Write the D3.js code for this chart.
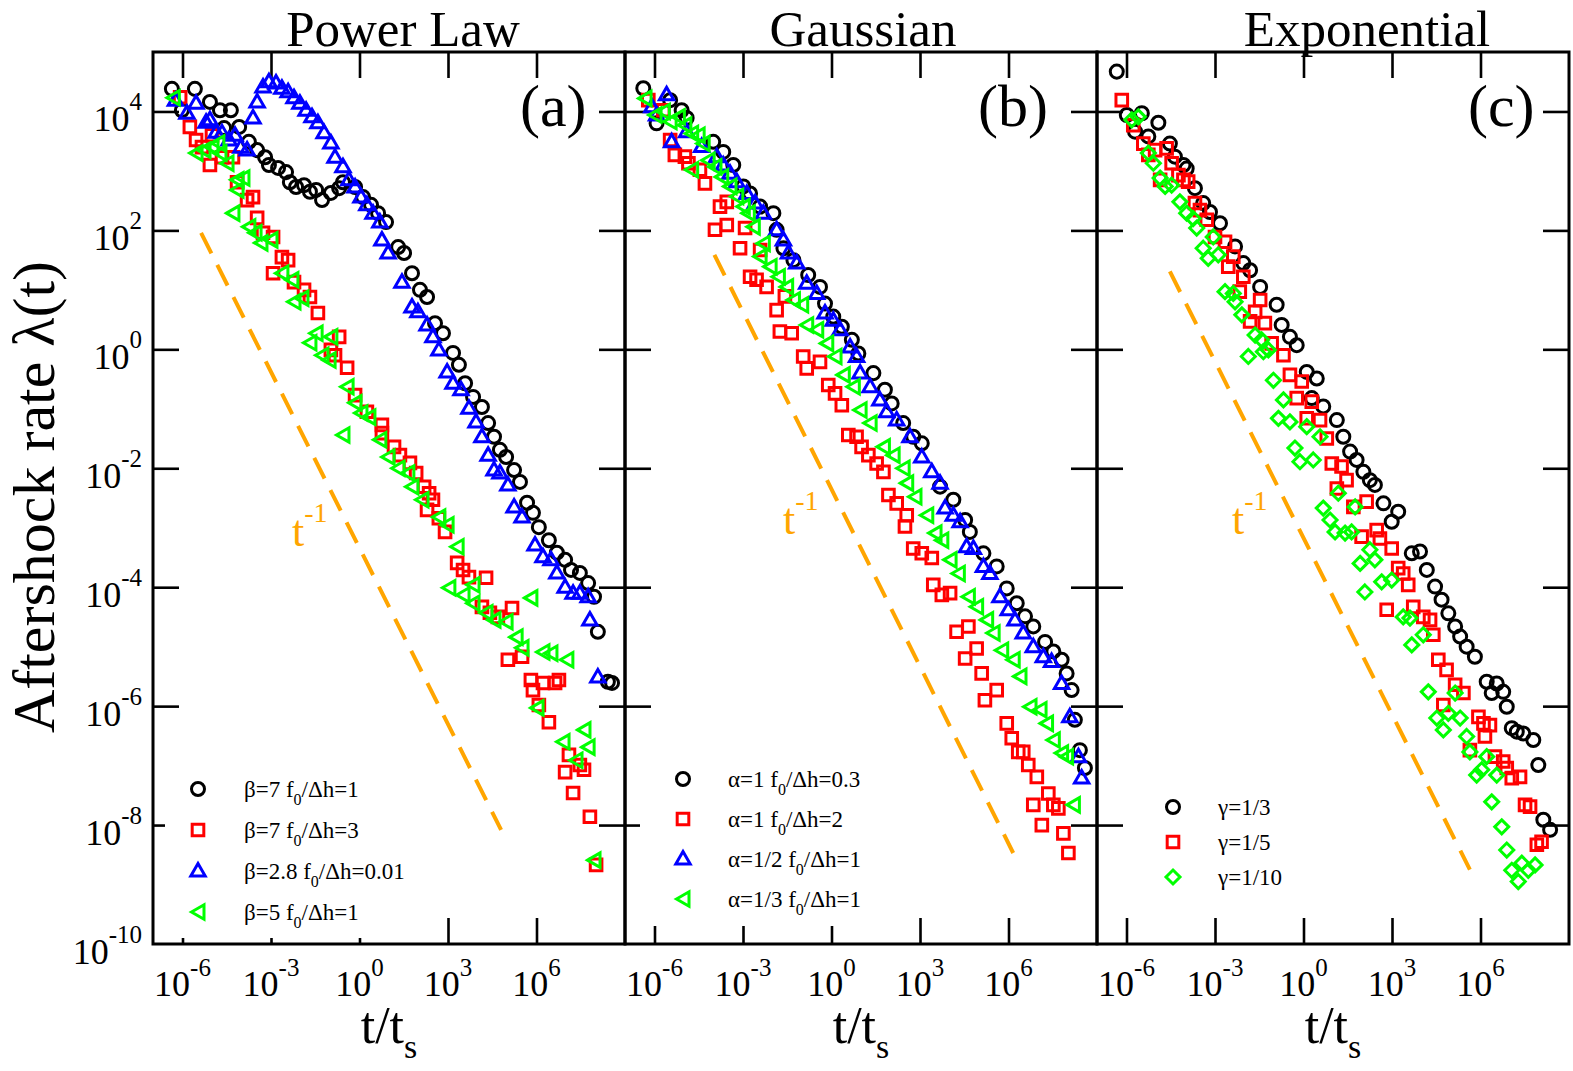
<!DOCTYPE html>
<html lang="en">
<head>
<meta charset="UTF-8">
<title>Aftershock rate</title>
<script src="https://cdn.jsdelivr.net/npm/d3@7"></script>
<style>
  body { margin: 0; background: #fff; }
  text { font-family: "Liberation Serif", "Times New Roman", serif; }
</style>
</head>
<body>
<svg id="chart" width="1573" height="1071"></svg>
<script>

// (a) Power Law
const plBlack = [[-6.36,4.38],[-5.58,4.38],[-6.02,4.02],[-5.07,4.16],[-4.73,4.02],[-4.36,4.02],[-4.59,3.72],[-4.08,3.74],[-3.75,3.49],[-3.47,3.35],[-3.20,3.23],[-3.07,3.10],[-2.76,3.05],[-2.49,2.98],[-2.36,2.81],[-2.15,2.73],[-1.88,2.76],[-1.68,2.65],[-1.47,2.68],[-1.27,2.51],[-0.97,2.63],[-0.69,2.71],[-0.56,2.81],[-0.15,2.73],[0.12,2.56],[0.39,2.43],[0.63,2.29],[0.90,2.14],[1.31,1.72],[1.51,1.62],[1.78,1.28],[2.05,1.00],[2.29,0.88],[2.56,0.44],[2.83,0.27],[3.17,-0.06],[3.37,-0.26],[3.58,-0.57],[3.85,-0.80],[4.15,-0.97],[4.36,-1.24],[4.56,-1.47],[4.76,-1.69],[4.97,-1.81],[5.24,-2.03],[5.44,-2.23],[5.68,-2.58],[5.88,-2.75],[6.08,-2.99],[6.42,-3.21],[6.69,-3.42],[6.97,-3.54],[7.17,-3.71],[7.47,-3.76],[7.75,-3.93],[7.95,-4.16],[8.08,-4.75],[8.42,-5.59],[8.56,-5.61]];
const plRed = [[-6.08,4.24],[-5.75,3.74],[-5.54,3.52],[-5.34,3.40],[-5.07,3.10],[-5.00,3.60],[-4.66,3.23],[-4.29,3.23],[-4.15,2.81],[-3.81,2.51],[-3.61,2.56],[-3.47,2.21],[-3.27,1.96],[-2.93,1.89],[-2.63,1.55],[-2.42,1.50],[-2.93,1.28],[-2.22,1.13],[-1.88,1.00],[-1.68,0.88],[-1.41,0.61],[-0.69,0.21],[-0.97,-0.01],[-0.83,-0.10],[-0.42,-0.31],[-0.15,-0.77],[0.25,-1.05],[0.76,-1.27],[0.76,-1.41],[1.17,-1.64],[1.37,-1.78],[1.71,-1.91],[1.92,-2.08],[2.19,-2.31],[2.36,-2.42],[2.49,-2.53],[2.29,-2.70],[2.69,-2.84],[2.90,-3.07],[3.31,-3.59],[3.51,-3.71],[3.71,-3.83],[4.29,-3.84],[4.15,-4.33],[4.42,-4.43],[4.69,-4.50],[5.17,-4.35],[5.03,-5.22],[5.51,-5.17],[5.81,-5.56],[6.22,-5.61],[6.63,-5.61],[6.76,-5.56],[5.88,-5.73],[6.08,-5.98],[6.42,-6.27],[7.10,-6.82],[6.97,-7.11],[7.61,-7.07],[7.47,-6.99],[7.24,-7.46],[7.81,-7.86],[8.02,-8.67]];
const plBlue = [[-6.24,4.19],[-5.85,3.97],[-5.54,4.14],[-5.20,3.82],[-5.07,3.86],[-4.86,3.65],[-4.66,3.64],[-4.42,3.52],[-4.22,3.60],[-4.02,3.40],[-3.81,3.35],[-3.61,3.89],[-3.47,4.16],[-3.27,4.41],[-3.07,4.50],[-2.83,4.48],[-2.63,4.39],[-2.42,4.33],[-2.22,4.23],[-2.02,4.14],[-1.81,4.02],[-1.61,3.91],[-1.41,3.81],[-1.20,3.64],[-0.97,3.47],[-0.83,3.23],[-0.56,3.07],[-0.36,2.85],[-0.15,2.73],[0.05,2.56],[0.25,2.43],[0.46,2.29],[0.69,2.14],[0.76,1.84],[0.97,1.62],[1.44,1.13],[1.78,0.71],[1.98,0.63],[2.29,0.41],[2.49,0.21],[2.69,-0.01],[2.97,-0.38],[3.17,-0.57],[3.44,-0.68],[3.71,-0.99],[3.95,-1.22],[4.15,-1.47],[4.36,-1.78],[4.56,-2.03],[4.76,-2.08],[5.03,-2.28],[5.24,-2.65],[5.51,-2.82],[5.95,-3.29],[6.22,-3.49],[6.49,-3.54],[6.69,-3.76],[6.97,-4.00],[7.24,-4.10],[7.47,-4.10],[7.75,-4.16],[7.81,-4.55],[8.08,-5.51]];
const plGreen = [[-6.31,4.23],[-5.54,3.30],[-5.27,3.35],[-5.00,3.40],[-4.80,3.47],[-4.73,3.30],[-4.49,3.13],[-4.15,2.85],[-3.95,2.88],[-4.15,2.68],[-4.29,2.29],[-3.75,2.06],[-3.54,1.96],[-3.34,1.79],[-3.00,1.84],[-2.63,1.28],[-2.29,1.17],[-2.22,0.80],[-1.95,0.86],[-1.47,0.27],[-0.97,0.21],[-1.68,0.11],[-1.27,-0.10],[-1.03,-0.18],[-0.42,-0.63],[-0.15,-0.90],[0.05,-1.07],[0.32,-1.14],[-0.56,-1.44],[0.69,-1.52],[0.97,-1.81],[1.31,-2.00],[1.64,-2.08],[1.78,-2.31],[2.12,-2.53],[2.69,-2.82],[2.97,-2.95],[3.31,-3.32],[3.03,-4.01],[3.51,-4.13],[3.85,-3.96],[3.85,-4.27],[4.29,-4.43],[4.56,-4.55],[4.97,-4.58],[5.31,-4.84],[5.51,-5.02],[5.81,-4.18],[6.22,-5.09],[6.49,-5.11],[7.03,-5.22],[6.02,-6.03],[6.90,-6.60],[7.34,-6.91],[7.61,-6.40],[7.75,-6.69],[7.95,-8.59]];
const plLabels = [["β=7 f","0","/Δh=1"],["β=7 f","0","/Δh=3"],["β=2.8 f","0","/Δh=0.01"],["β=5 f","0","/Δh=1"]];
const plGuide = [[-5.37,1.96],[4.80,-8.08]];

// (b) Gaussian
const gaBlack = [[-6.38,4.39],[-5.47,4.19],[-5.08,4.02],[-4.91,3.89],[-5.93,3.80],[-4.01,3.49],[-3.67,3.32],[-3.33,3.10],[-2.99,2.74],[-2.76,2.62],[-2.42,2.40],[-1.97,2.29],[-1.86,2.01],[-1.63,1.70],[-1.29,1.50],[-0.79,1.25],[-0.39,1.05],[-0.22,0.77],[0.06,0.55],[0.35,0.38],[0.69,0.16],[0.91,-0.07],[1.42,-0.40],[1.81,-0.68],[2.04,-0.91],[2.43,-1.24],[2.77,-1.47],[3.06,-1.58],[3.68,-2.31],[4.13,-2.53],[4.53,-2.87],[4.69,-3.07],[5.15,-3.43],[5.60,-3.65],[5.94,-4.02],[6.28,-4.27],[6.56,-4.49],[6.84,-4.66],[7.24,-4.92],[7.52,-5.08],[7.80,-5.22],[7.97,-5.45],[8.14,-5.73],[8.25,-6.23],[8.42,-6.74],[8.59,-7.04]];
const gaRed = [[-6.21,4.19],[-5.70,4.02],[-5.47,3.52],[-5.31,3.27],[-4.97,3.24],[-4.85,3.13],[-4.46,3.02],[-4.29,2.79],[-3.78,2.40],[-3.55,2.48],[-3.95,2.01],[-3.55,2.09],[-2.93,2.04],[-3.10,1.70],[-2.42,1.67],[-2.76,1.22],[-2.54,1.17],[-2.20,1.05],[-1.86,0.66],[-1.58,0.89],[-1.75,0.30],[-1.35,0.27],[-0.96,-0.12],[-0.84,-0.32],[-0.39,-0.21],[-0.11,-0.60],[0.12,-0.74],[0.35,-0.94],[0.57,-1.44],[0.85,-1.47],[1.02,-1.64],[1.25,-1.78],[1.53,-1.92],[1.76,-2.06],[1.93,-2.45],[2.21,-2.59],[2.55,-2.79],[2.49,-2.98],[2.77,-3.35],[3.06,-3.43],[3.40,-3.51],[3.45,-3.96],[3.74,-4.13],[4.02,-4.10],[4.24,-4.75],[4.64,-4.66],[4.53,-5.20],[4.92,-5.03],[5.09,-5.45],[5.60,-5.73],[5.20,-5.90],[5.94,-6.29],[6.11,-6.54],[6.33,-6.77],[6.50,-6.77],[6.67,-6.99],[6.96,-7.19],[7.35,-7.47],[6.84,-7.66],[7.52,-7.66],[7.69,-7.72],[7.13,-8.00],[7.86,-8.14],[8.03,-8.47]];
const gaBlue = [[-6.09,4.08],[-5.59,4.28],[-5.93,3.94],[-5.42,3.49],[-4.91,3.66],[-4.40,3.41],[-3.89,3.24],[-3.67,3.10],[-3.44,2.96],[-3.21,2.82],[-2.87,2.62],[-2.59,2.46],[-2.31,2.29],[-1.86,2.01],[-1.63,1.84],[-1.46,1.62],[-1.18,1.45],[-0.84,1.11],[-0.50,0.94],[-0.22,0.61],[0.06,0.49],[0.29,0.33],[0.63,0.04],[0.85,-0.12],[0.97,-0.40],[1.31,-0.63],[1.64,-0.85],[1.87,-1.05],[2.21,-1.19],[2.66,-1.47],[3.06,-1.81],[3.40,-2.06],[3.68,-2.25],[3.85,-2.67],[4.13,-2.79],[4.36,-2.90],[4.58,-3.32],[4.81,-3.35],[5.15,-3.65],[5.37,-3.77],[5.71,-4.16],[5.99,-4.38],[6.22,-4.55],[6.50,-4.77],[6.84,-5.00],[7.18,-5.17],[7.46,-5.25],[7.80,-5.62],[8.08,-6.18],[8.37,-6.85],[8.48,-7.21]];
const gaGreen = [[-6.32,4.22],[-5.98,3.94],[-5.70,4.00],[-5.47,3.83],[-5.19,3.91],[-4.97,3.77],[-4.74,3.63],[-4.52,3.60],[-4.35,3.46],[-4.74,3.02],[-4.18,3.18],[-3.95,3.07],[-3.72,2.90],[-3.44,2.74],[-3.21,2.57],[-2.99,2.40],[-2.82,2.29],[-2.65,2.06],[-2.31,1.78],[-2.42,1.56],[-2.08,1.39],[-1.80,1.22],[-1.52,1.05],[-1.29,0.83],[-1.01,0.75],[-0.84,0.41],[-0.50,0.33],[-0.16,0.10],[0.12,-0.12],[0.40,-0.43],[0.74,-0.63],[0.97,-1.02],[1.31,-1.24],[1.76,-1.64],[2.09,-1.78],[2.43,-2.00],[2.55,-2.25],[2.83,-2.48],[3.23,-2.79],[3.51,-3.09],[3.74,-3.21],[4.02,-3.54],[4.30,-3.77],[4.64,-4.16],[4.92,-4.33],[5.26,-4.55],[5.48,-4.77],[5.77,-5.06],[6.16,-5.22],[6.39,-5.50],[6.73,-6.01],[7.07,-6.06],[7.29,-6.29],[7.52,-6.57],[7.80,-6.79],[7.97,-6.85],[8.20,-7.66]];
const gaLabels = [["α=1 f","0","/Δh=0.3"],["α=1 f","0","/Δh=2"],["α=1/2 f","0","/Δh=1"],["α=1/3 f","0","/Δh=1"]];
const gaGuide = [[-3.97,1.59],[6.16,-8.47]];

// (c) Exponential
const exBlack = [[-6.33,4.67],[-5.99,3.94],[-5.48,3.97],[-4.92,3.81],[-5.71,3.66],[-5.26,3.58],[-4.53,3.46],[-4.36,3.24],[-4.07,3.10],[-3.96,3.04],[-3.68,2.71],[-3.40,2.46],[-3.17,2.31],[-2.83,2.12],[-2.32,1.73],[-2.04,1.45],[-1.81,1.33],[-1.47,1.05],[-0.91,0.75],[-0.74,0.41],[-0.46,0.21],[-0.23,0.07],[0.11,-0.38],[0.45,-0.49],[0.28,-0.82],[0.67,-0.96],[1.13,-1.19],[1.35,-1.47],[1.58,-1.72],[1.80,-1.86],[2.03,-2.06],[2.25,-2.20],[2.42,-2.28],[2.71,-2.59],[3.21,-2.73],[2.99,-2.90],[3.67,-3.43],[3.95,-3.40],[4.18,-3.71],[4.46,-3.99],[4.68,-4.21],[4.91,-4.44],[5.14,-4.66],[5.31,-4.83],[5.53,-5.00],[5.81,-5.17],[6.21,-5.59],[6.55,-5.62],[6.77,-5.76],[6.38,-5.78],[6.89,-6.01],[7.06,-6.37],[7.23,-6.43],[7.45,-6.46],[7.79,-6.57],[7.96,-6.99],[8.13,-7.91],[8.36,-8.08]];
const exRed = [[-6.16,4.19],[-5.77,3.77],[-5.43,3.46],[-5.03,3.35],[-5.26,3.27],[-4.64,3.38],[-4.47,3.13],[-4.24,2.93],[-4.07,2.85],[-3.91,2.82],[-4.86,2.85],[-3.68,2.46],[-3.51,2.34],[-3.28,2.18],[-3.00,1.89],[-2.66,1.81],[-2.38,1.56],[-2.55,1.39],[-2.04,1.22],[-2.16,0.97],[-1.47,0.83],[-1.64,0.63],[-1.81,0.47],[-1.31,0.44],[-1.08,0.10],[-0.68,-0.10],[-0.46,-0.43],[-0.06,-0.54],[-0.23,-0.82],[0.28,-0.88],[0.11,-1.16],[0.56,-1.19],[0.79,-1.50],[0.96,-1.92],[1.29,-1.97],[1.46,-2.20],[1.13,-2.34],[1.69,-2.65],[2.14,-2.56],[1.97,-3.15],[2.48,-3.04],[2.59,-3.18],[2.99,-3.35],[3.21,-3.68],[3.38,-3.77],[3.55,-3.96],[2.82,-4.38],[3.72,-4.33],[4.06,-4.50],[4.29,-4.55],[4.40,-4.80],[4.57,-5.22],[4.85,-5.39],[5.14,-5.64],[5.42,-5.78],[4.74,-5.98],[5.93,-6.18],[6.10,-6.29],[6.32,-6.32],[6.15,-6.51],[5.64,-6.74],[6.49,-6.85],[6.77,-6.93],[6.89,-7.04],[7.06,-7.21],[7.34,-7.19],[7.51,-7.66],[7.68,-7.69],[7.91,-8.33],[8.07,-8.28]];
const exGreen = [[-5.82,3.86],[-5.60,3.91],[-5.26,3.30],[-5.09,3.13],[-4.86,2.88],[-4.69,2.74],[-4.47,2.76],[-4.19,2.48],[-3.96,2.29],[-3.74,2.20],[-3.62,2.04],[-3.06,1.89],[-3.40,1.70],[-3.23,1.53],[-2.89,1.59],[-2.66,0.97],[-2.38,0.94],[-2.32,0.80],[-2.09,0.58],[-1.64,0.24],[-1.42,0.16],[-1.19,-0.01],[-1.87,-0.12],[-1.36,-0.04],[-1.02,-0.52],[-0.68,-0.85],[-0.85,-1.16],[-0.46,-1.22],[0.11,-1.30],[0.56,-1.47],[-0.29,-1.66],[-0.12,-1.89],[0.33,-1.86],[1.18,-2.42],[1.75,-2.65],[0.67,-2.67],[0.90,-2.87],[1.07,-3.07],[1.41,-3.09],[1.63,-3.07],[2.25,-3.37],[2.42,-3.54],[1.92,-3.60],[2.65,-3.91],[2.99,-3.88],[2.08,-4.08],[3.38,-4.50],[3.61,-4.52],[4.06,-4.80],[3.67,-4.97],[4.23,-5.76],[5.14,-5.78],[4.52,-6.20],[4.74,-6.40],[4.91,-6.12],[5.31,-6.20],[5.53,-6.51],[5.64,-6.77],[5.87,-7.16],[6.04,-7.07],[6.21,-6.85],[6.55,-7.16],[6.38,-7.61],[6.72,-8.03],[6.89,-8.42],[7.06,-8.76],[7.28,-8.95],[7.40,-8.64],[7.62,-8.76],[7.85,-8.67]];
const exLabels = [["γ=1/3"],["γ=1/5"],["γ=1/10"]];
const exGuide = [[-4.53,1.31],[5.64,-8.75]];

// axes
const xTickExp = [-6, -3, 0, 3, 6];
const yTickExp = [4, 2, 0, -2, -4, -6, -8, -10];
const titles = ["Power Law", "Gaussian", "Exponential"];
const tags = ["(a)", "(b)", "(c)"];

// layout
const plotTop = 52, plotBottom = 944, left0 = 153, panelW = 472;
const tickLen = 26;
const svg = d3.select("#chart");

// marker shapes
const triUp = { draw(c) { c.moveTo(0, -7.5); c.lineTo(7.2, 5); c.lineTo(-7.2, 5); c.closePath(); } };
const triLeft = { draw(c) { c.moveTo(-6.5, 0); c.lineTo(6, -7.2); c.lineTo(6, 7.2); c.closePath(); } };
const diamond = { draw(c) { c.moveTo(0, -7); c.lineTo(7, 0); c.lineTo(0, 7); c.lineTo(-7, 0); c.closePath(); } };
const marks = {
  circle: d3.symbol().type(d3.symbolCircle).size(133)(),
  square: d3.symbol().type(d3.symbolSquare).size(135)(),
  triUp: d3.symbol().type(triUp)(),
  triLeft: d3.symbol().type(triLeft)(),
  diamond: d3.symbol().type(diamond)()
};

const panels = [
  { series: [
      { data: plBlack, color: "#000", mark: "circle" },
      { data: plRed, color: "#ff0000", mark: "square" },
      { data: plBlue, color: "#0000ff", mark: "triUp" },
      { data: plGreen, color: "#00ff00", mark: "triLeft" }],
    labels: plLabels, guide: plGuide,
    titleX: 403, tagX: 520, guideText: [292, 546],
    legend: { box: [165, 762, 262, 176], sx: 198, tx: 244, y0: 789, dy: 41 } },
  { series: [
      { data: gaBlack, color: "#000", mark: "circle" },
      { data: gaRed, color: "#ff0000", mark: "square" },
      { data: gaBlue, color: "#0000ff", mark: "triUp" },
      { data: gaGreen, color: "#00ff00", mark: "triLeft" }],
    labels: gaLabels, guide: gaGuide,
    titleX: 863, tagX: 978, guideText: [783, 534],
    legend: { box: [640, 755, 245, 171], sx: 683, tx: 728, y0: 779, dy: 40 } },
  { series: [
      { data: exBlack, color: "#000", mark: "circle" },
      { data: exRed, color: "#ff0000", mark: "square" },
      { data: exGreen, color: "#00ff00", mark: "diamond" }],
    labels: exLabels, guide: exGuide,
    titleX: 1367, tagX: 1468, guideText: [1232, 534],
    legend: { box: [1150, 785, 140, 110], sx: 1173, tx: 1218, y0: 807, dy: 35 } }
];

const y = d3.scaleLog().domain([1e-10, 1e5]).range([plotBottom, plotTop]);
const pow = e => Math.pow(10, e);

panels.forEach((p, i) => {
  const x0 = left0 + i * panelW;
  const x = d3.scaleLog().domain([1e-7, 1e9]).range([x0, x0 + panelW]);
  const g = svg.append("g");

  // inward ticks on all four sides
  const xt = xTickExp.map(pow);
  const yt = yTickExp.filter(e => e > -10).map(pow);
  const axes = [
    [d3.axisBottom(x).tickValues(xt), `translate(0,${plotBottom})`],
    [d3.axisTop(x).tickValues(xt), `translate(0,${plotTop})`],
    [d3.axisLeft(y).tickValues(yt), `translate(${x0},0)`],
    [d3.axisRight(y).tickValues(yt), `translate(${x0 + panelW},0)`]
  ];
  axes.forEach(([ax, tr]) => {
    const a = g.append("g").attr("transform", tr)
      .call(ax.tickSize(-tickLen).tickFormat(""));
    a.select(".domain").remove();
    a.selectAll("line").attr("stroke", "#000").attr("stroke-width", 2.6);
  });

  // frame
  g.append("rect").attr("x", x0).attr("y", plotTop).attr("width", panelW).attr("height", plotBottom - plotTop)
    .attr("fill", "none").attr("stroke", "#000").attr("stroke-width", 3);

  // x tick labels
  xTickExp.forEach(e => {
    const t = g.append("text").attr("x", x(pow(e))).attr("y", 996)
      .attr("text-anchor", "middle").attr("font-size", 36);
    t.append("tspan").text("10");
    t.append("tspan").attr("font-size", 25).attr("dy", -20).text(e);
  });

  // y tick labels only on first panel
  if (i === 0) {
    yTickExp.forEach(e => {
      const t = g.append("text").attr("x", 142).attr("y", y(pow(e)) + 20)
        .attr("text-anchor", "end").attr("font-size", 36);
      t.append("tspan").text("10");
      t.append("tspan").attr("font-size", 25).attr("dy", -21).text(e);
    });
  }

  // x label
  const xl = g.append("text").attr("x", x0 + panelW / 2).attr("y", 1043)
    .attr("text-anchor", "middle").attr("font-size", 52);
  xl.append("tspan").text("t/t");
  xl.append("tspan").attr("font-size", 34).attr("dy", 15).text("s");

  // title and tag
  g.append("text").attr("x", p.titleX).attr("y", 46).attr("text-anchor", "middle")
    .attr("font-size", 51).text(titles[i]);
  g.append("text").attr("x", p.tagX).attr("y", 126).attr("font-size", 60).text(tags[i]);

  // t^-1 guide
  g.append("line")
    .attr("x1", x(pow(p.guide[0][0]))).attr("y1", y(pow(p.guide[0][1])))
    .attr("x2", x(pow(p.guide[1][0]))).attr("y2", y(pow(p.guide[1][1])))
    .attr("stroke", "#ffa500").attr("stroke-width", 4).attr("stroke-dasharray", "23,13");
  const gt = g.append("text").attr("x", p.guideText[0]).attr("y", p.guideText[1])
    .attr("font-size", 44).attr("fill", "#ffa500");
  gt.append("tspan").text("t");
  gt.append("tspan").attr("font-size", 28).attr("dy", -24).text("-1");

  // data
  p.series.forEach(s => {
    g.append("g").selectAll("path").data(s.data).enter().append("path")
      .attr("d", marks[s.mark])
      .attr("transform", d => `translate(${x(pow(d[0]))},${y(pow(d[1]))})`)
      .attr("fill", "none").attr("stroke", s.color).attr("stroke-width", 3);
  });

  // legend
  const L = p.legend;
  g.append("rect").attr("x", L.box[0]).attr("y", L.box[1]).attr("width", L.box[2]).attr("height", L.box[3])
    .attr("fill", "#fff");
  p.series.forEach((s, k) => {
    const yy = L.y0 + k * L.dy;
    g.append("path").attr("d", marks[s.mark]).attr("transform", `translate(${L.sx},${yy})`)
      .attr("fill", "none").attr("stroke", s.color).attr("stroke-width", 3);
    const parts = p.labels[k];
    const t = g.append("text").attr("x", L.tx).attr("y", yy + 8).attr("font-size", 23);
    t.append("tspan").text(parts[0]);
    if (parts.length > 1) {
      t.append("tspan").attr("font-size", 16).attr("dy", 8).text(parts[1]);
      t.append("tspan").attr("dy", -8).text(parts[2]);
    }
  });
});

// y label
svg.append("text").attr("transform", "translate(54,497) rotate(-90)")
  .attr("text-anchor", "middle").attr("font-size", 60).text("Aftershock rate  λ(t)");
</script>
</body>
</html>
